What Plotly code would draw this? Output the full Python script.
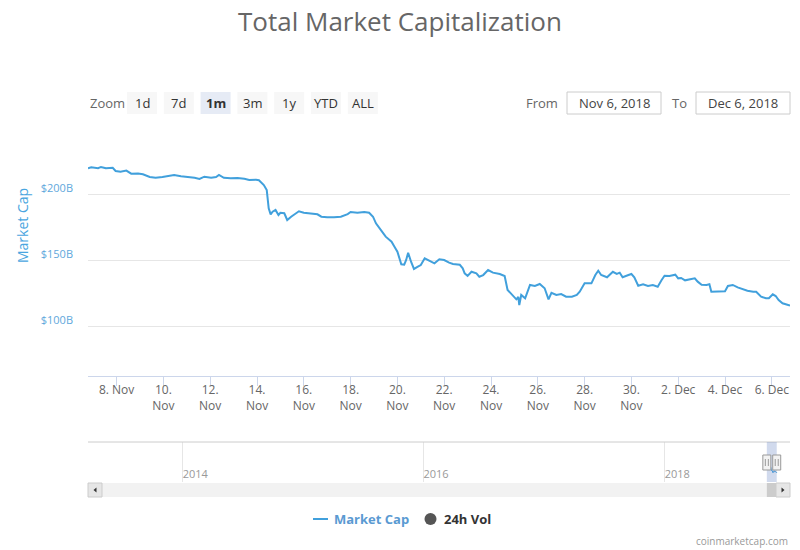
import plotly.graph_objects as go

# ---------------- data ----------------
timestamps = [
    "2018-11-06 18:40", "2018-11-06 22:00", "2018-11-07 05:00", "2018-11-07 08:00",
    "2018-11-07 13:00", "2018-11-07 20:00", "2018-11-07 23:00", "2018-11-08 04:00",
    "2018-11-08 10:00", "2018-11-08 15:00", "2018-11-08 22:00", "2018-11-09 03:00",
    "2018-11-09 10:00", "2018-11-09 16:00", "2018-11-09 23:00", "2018-11-10 04:00",
    "2018-11-10 11:00", "2018-11-10 18:00", "2018-11-11 01:00", "2018-11-11 08:00",
    "2018-11-11 13:00", "2018-11-11 18:00", "2018-11-12 01:00", "2018-11-12 06:00",
    "2018-11-12 09:00", "2018-11-12 14:00", "2018-11-12 21:00", "2018-11-13 04:00",
    "2018-11-13 11:00", "2018-11-13 16:00", "2018-11-13 23:00", "2018-11-14 02:00",
    "2018-11-14 07:00", "2018-11-14 10:00", "2018-11-14 12:00", "2018-11-14 14:00",
    "2018-11-14 16:00", "2018-11-14 19:00", "2018-11-14 22:00", "2018-11-15 00:00",
    "2018-11-15 04:00", "2018-11-15 07:00", "2018-11-15 11:00", "2018-11-15 14:00",
    "2018-11-15 19:00", "2018-11-16 00:00", "2018-11-16 07:00", "2018-11-16 14:00",
    "2018-11-16 18:00", "2018-11-17 00:00", "2018-11-17 07:00", "2018-11-17 14:00",
    "2018-11-17 21:00", "2018-11-18 00:00", "2018-11-18 07:00", "2018-11-18 14:00",
    "2018-11-18 19:00", "2018-11-18 23:00", "2018-11-19 02:00", "2018-11-19 06:00",
    "2018-11-19 09:00", "2018-11-19 12:00", "2018-11-19 18:00", "2018-11-19 21:00",
    "2018-11-20 00:00", "2018-11-20 04:00", "2018-11-20 07:00", "2018-11-20 09:00",
    "2018-11-20 11:00", "2018-11-20 14:00", "2018-11-20 17:00", "2018-11-20 21:00",
    "2018-11-21 00:00", "2018-11-21 04:00", "2018-11-21 09:00", "2018-11-21 14:00",
    "2018-11-21 19:00", "2018-11-22 00:00", "2018-11-22 05:00", "2018-11-22 09:00",
    "2018-11-22 16:00", "2018-11-22 19:00", "2018-11-22 21:00", "2018-11-23 00:00",
    "2018-11-23 04:00", "2018-11-23 09:00", "2018-11-23 12:00", "2018-11-23 16:00",
    "2018-11-23 21:00", "2018-11-24 02:00", "2018-11-24 09:00", "2018-11-24 14:00",
    "2018-11-24 17:00", "2018-11-24 23:00", "2018-11-25 02:00", "2018-11-25 04:00",
    "2018-11-25 05:00", "2018-11-25 07:00", "2018-11-25 11:00", "2018-11-25 16:00",
    "2018-11-25 21:00", "2018-11-26 02:00", "2018-11-26 07:00", "2018-11-26 11:00",
    "2018-11-26 14:00", "2018-11-26 19:00", "2018-11-27 00:00", "2018-11-27 05:00",
    "2018-11-27 11:00", "2018-11-27 16:00", "2018-11-27 19:00", "2018-11-28 00:00",
    "2018-11-28 07:00", "2018-11-28 11:00", "2018-11-28 14:00", "2018-11-28 17:00",
    "2018-11-28 23:00", "2018-11-29 05:00", "2018-11-29 09:00", "2018-11-29 12:00",
    "2018-11-29 15:00", "2018-11-29 21:00", "2018-11-30 00:00", "2018-11-30 03:00",
    "2018-11-30 07:00", "2018-11-30 12:00", "2018-11-30 17:00", "2018-11-30 22:00",
    "2018-12-01 03:00", "2018-12-01 07:00", "2018-12-01 10:00", "2018-12-01 15:00",
    "2018-12-01 21:00", "2018-12-02 00:00", "2018-12-02 03:00", "2018-12-02 07:00",
    "2018-12-02 14:00", "2018-12-02 17:00", "2018-12-02 20:00", "2018-12-03 00:00",
    "2018-12-03 05:00", "2018-12-03 08:00", "2018-12-03 10:00", "2018-12-03 15:00",
    "2018-12-03 20:00", "2018-12-04 00:00", "2018-12-04 03:00", "2018-12-04 08:00",
    "2018-12-04 13:00", "2018-12-04 18:00", "2018-12-04 23:00", "2018-12-05 05:00",
    "2018-12-05 08:00", "2018-12-05 13:00", "2018-12-05 18:00", "2018-12-05 21:00",
    "2018-12-06 01:00", "2018-12-06 04:00", "2018-12-06 07:00", "2018-12-06 11:00",
    "2018-12-06 14:00", "2018-12-06 18:40",
]

market_cap_billion = [
    219.5, 220.2, 219.5, 220.5,
    219.5, 219.9, 217.4, 216.9,
    217.7, 215.4, 215.6, 214.9,
    212.9, 212.3, 212.9, 213.4,
    214.4, 213.4, 212.9, 212.3,
    211.4, 213.1, 212.3, 212.9,
    214.4, 212.3, 211.9, 212.2,
    211.6, 210.6, 210.8, 210.4,
    206.8, 203.0, 189.2, 184.6,
    186.6, 187.9, 184.1, 185.8,
    185.4, 180.3, 182.8, 184.1,
    186.9, 185.8, 185.4, 184.6,
    182.8, 182.3, 182.3, 182.8,
    184.8, 186.4, 185.8, 186.4,
    185.8, 182.8, 177.8, 173.3,
    170.7, 167.7, 163.9, 160.1,
    156.3, 146.7, 146.4, 150.0,
    155.5, 148.7, 143.2, 144.9,
    146.2, 151.3, 149.5, 147.5,
    150.5, 150.0, 148.0, 147.0,
    146.4, 143.7, 139.9, 137.9,
    141.1, 139.9, 137.3, 138.6,
    142.4, 140.4, 139.4, 137.9,
    127.3, 122.2, 120.2, 122.0,
    115.9, 123.5, 121.0, 131.1,
    130.3, 131.8, 128.6, 120.2,
    125.2, 123.5, 124.2, 122.2,
    122.2, 123.5, 126.0, 132.3,
    132.3, 138.6, 141.9, 138.6,
    136.9, 141.1, 139.5, 140.4,
    136.9, 138.6, 139.4, 136.9,
    130.5, 131.6, 130.3, 131.1,
    129.8, 134.8, 138.1, 137.9,
    138.9, 136.1, 136.4, 134.6,
    135.4, 136.1, 133.6, 131.3,
    131.1, 131.6, 126.0, 126.0,
    126.5, 126.3, 130.3, 131.1,
    129.3, 127.8, 126.7, 126.0,
    126.0, 122.2, 121.0, 121.0,
    124.0, 122.7, 119.7, 117.2,
    116.7, 115.4,
]

x_tick_dates = ["2018-11-08", "2018-11-10", "2018-11-12", "2018-11-14", "2018-11-16",
                "2018-11-18", "2018-11-20", "2018-11-22", "2018-11-24", "2018-11-26",
                "2018-11-28", "2018-11-30", "2018-12-02", "2018-12-04", "2018-12-06"]
x_tick_labels = ["8. Nov", "10.<br>Nov", "12.<br>Nov", "14.<br>Nov", "16.<br>Nov",
                 "18.<br>Nov", "20.<br>Nov", "22.<br>Nov", "24.<br>Nov", "26.<br>Nov",
                 "28.<br>Nov", "30.<br>Nov", "2. Dec", "4. Dec", "6. Dec"]
y_tick_values = [100, 150, 200, 250]
y_tick_labels = ["$100B", "$150B", "$200B", ""]

nav_tick_dates = ["2014-01-01", "2016-01-01", "2018-01-01"]
nav_tick_labels = ["2014", "2016", "2018"]

zoom_buttons = ["1d", "7d", "1m", "3m", "1y", "YTD", "ALL"]
active_button = "1m"
date_from = "Nov 6, 2018"
date_to = "Dec 6, 2018"

# ---------------- style / geometry ----------------
W, H = 800, 550
PL, PR = 88, 790             # plot left / right in window pixels
ML, MR = PL, W - PR
FONT = "Open Sans"
LINE_COLOR = "#41a0dc"


def px(p):
    return (p - PL) / (PR - PL)


def py(p):
    return 1 - p / H


fig = go.Figure()

fig.add_trace(go.Scatter(
    x=timestamps, y=market_cap_billion, mode="lines",
    line=dict(color=LINE_COLOR, width=2), name="Market Cap",
    xaxis="x", yaxis="y", showlegend=False,
))
# navigator series
fig.add_trace(go.Scatter(
    x=timestamps, y=market_cap_billion, mode="lines",
    line=dict(color=LINE_COLOR, width=1), name="Market Cap (navigator)",
    xaxis="x2", yaxis="y2", showlegend=False, hoverinfo="skip",
))

shapes = []
annotations = []

# ----- range selector (Zoom buttons) -----
annotations.append(dict(x=px(88), y=py(103), xref="paper", yref="paper", text="Zoom",
                        showarrow=False, xanchor="left", yanchor="middle",
                        font=dict(family=FONT, size=13, color="#666666")))
for i, b in enumerate(zoom_buttons):
    x0 = 127 + i * 36.8
    active = (b == active_button)
    shapes.append(dict(type="rect", xref="paper", yref="paper",
                       x0=px(x0), x1=px(x0 + 30), y0=py(114), y1=py(92),
                       fillcolor="#e6ebf5" if active else "#f7f7f7", line=dict(width=0), layer="below"))
    annotations.append(dict(x=px(x0 + 15), y=py(103), xref="paper", yref="paper",
                            text=f"<b>{b}</b>" if active else b, showarrow=False,
                            xanchor="center", yanchor="middle",
                            font=dict(family=FONT, size=13, color="#333333")))

# From / To inputs
annotations.append(dict(x=px(560), y=py(103), xref="paper", yref="paper", text="From",
                        showarrow=False, xanchor="right", yanchor="middle",
                        font=dict(family=FONT, size=13, color="#666666")))
shapes.append(dict(type="rect", xref="paper", yref="paper", x0=px(567), x1=px(661),
                   y0=py(114), y1=py(92), line=dict(color="#cccccc", width=1), fillcolor="white"))
annotations.append(dict(x=px(614), y=py(103), xref="paper", yref="paper", text=date_from,
                        showarrow=False, xanchor="center", yanchor="middle",
                        font=dict(family=FONT, size=13, color="#444444")))
annotations.append(dict(x=px(689), y=py(103), xref="paper", yref="paper", text="To",
                        showarrow=False, xanchor="right", yanchor="middle",
                        font=dict(family=FONT, size=13, color="#666666")))
shapes.append(dict(type="rect", xref="paper", yref="paper", x0=px(696), x1=px(790),
                   y0=py(114), y1=py(92), line=dict(color="#cccccc", width=1), fillcolor="white"))
annotations.append(dict(x=px(743), y=py(103), xref="paper", yref="paper", text=date_to,
                        showarrow=False, xanchor="center", yanchor="middle",
                        font=dict(family=FONT, size=13, color="#444444")))

# y axis title
annotations.append(dict(x=px(22), y=py(226), xref="paper", yref="paper", text="Market Cap",
                        showarrow=False, textangle=-90, xanchor="center", yanchor="middle",
                        font=dict(family=FONT, size=14, color="#4aa6e0")))

# title
annotations.append(dict(x=px(400), y=py(21), xref="paper", yref="paper",
                        text="Total Market Capitalization", showarrow=False,
                        xanchor="center", yanchor="middle",
                        font=dict(family=FONT, size=26, color="#666666")))

# ----- navigator -----
shapes.append(dict(type="line", xref="paper", yref="paper", x0=0, x1=1, y0=py(442), y1=py(442),
                   line=dict(color="#cccccc", width=1)))
# selected window
shapes.append(dict(type="rect", xref="x2", yref="paper", x0=timestamps[0], x1=timestamps[-1],
                   y0=py(482), y1=py(442), fillcolor="rgba(102,133,194,0.3)", line=dict(width=0)))
# scrollbar
shapes.append(dict(type="rect", xref="paper", yref="paper", x0=0, x1=1, y0=py(497), y1=py(483),
                   fillcolor="#f2f2f2", line=dict(width=0), layer="below"))
shapes.append(dict(type="rect", xref="x2", yref="paper", x0=timestamps[0], x1=timestamps[-1],
                   y0=py(497), y1=py(483), fillcolor="#cccccc", line=dict(width=0)))
for bx0, bx1, pts in [(88, 102, [(96.5, 487.5), (96.5, 492.5), (93.5, 490)]),
                      (776, 790, [(781.5, 487.5), (781.5, 492.5), (784.5, 490)])]:
    shapes.append(dict(type="rect", xref="paper", yref="paper", x0=px(bx0), x1=px(bx1),
                       y0=py(497), y1=py(483), fillcolor="#e6e6e6",
                       line=dict(color="#cccccc", width=1)))
    path = "M {} {} L {} {} L {} {} Z".format(px(pts[0][0]), py(pts[0][1]),
                                              px(pts[1][0]), py(pts[1][1]),
                                              px(pts[2][0]), py(pts[2][1]))
    shapes.append(dict(type="path", xref="paper", yref="paper", path=path,
                       fillcolor="#333333", line=dict(width=0)))
# handles
for anchor in (timestamps[0], timestamps[-1]):
    shapes.append(dict(type="rect", xref="x2", yref="paper", xsizemode="pixel", xanchor=anchor,
                       x0=-4, x1=4, y0=py(470), y1=py(455), fillcolor="#f2f2f2",
                       line=dict(color="#999999", width=1)))
    for dx in (-1.5, 1.5):
        shapes.append(dict(type="line", xref="x2", yref="paper", xsizemode="pixel", xanchor=anchor,
                           x0=dx, x1=dx, y0=py(466), y1=py(459),
                           line=dict(color="#999999", width=1)))

# ----- legend -----
shapes.append(dict(type="line", xref="paper", yref="paper", x0=px(313), x1=px(328),
                   y0=py(519), y1=py(519), line=dict(color=LINE_COLOR, width=2)))
annotations.append(dict(x=px(332), y=py(519), xref="paper", yref="paper", text="<b>Market Cap</b>",
                        showarrow=False, xanchor="left", yanchor="middle",
                        font=dict(family=FONT, size=13, color="#5a9ad2")))
shapes.append(dict(type="circle", xref="paper", yref="paper", x0=px(424.5), x1=px(436.5),
                   y0=py(525), y1=py(513), fillcolor="#555555", line=dict(width=0)))
annotations.append(dict(x=px(442), y=py(519), xref="paper", yref="paper", text="<b>24h Vol</b>",
                        showarrow=False, xanchor="left", yanchor="middle",
                        font=dict(family=FONT, size=13, color="#333333")))

# credits
annotations.append(dict(x=px(790), y=py(541), xref="paper", yref="paper", text="coinmarketcap.com",
                        showarrow=False, xanchor="right", yanchor="middle",
                        font=dict(family=FONT, size=10, color="#999999")))

fig.update_layout(
    width=W, height=H,
    margin=dict(l=ML, r=MR, t=0, b=0),
    paper_bgcolor="white", plot_bgcolor="white",
    font=dict(family=FONT, color="#666666"),
    xaxis=dict(type="date", domain=[0, 1], anchor="y",
               range=[timestamps[0], timestamps[-1]],
               tickmode="array", tickvals=x_tick_dates, ticktext=x_tick_labels,
               ticks="outside", ticklen=9, tickcolor="#ccd6eb", showline=True, linecolor="#ccd6eb",
               showgrid=False, zeroline=False,
               tickfont=dict(family=FONT, size=12, color="#666666")),
    yaxis=dict(domain=[py(376), py(128)], anchor="x", range=[62.12, 250],
               tickmode="array", tickvals=y_tick_values, ticktext=y_tick_labels,
               showgrid=True, gridcolor="#e6e6e6", gridwidth=1, zeroline=False, showline=False,
               ticklabelstandoff=14, ticklabelshift=-6,
               tickfont=dict(family=FONT, size=11, color="#5fa8dc")),
    xaxis2=dict(type="date", domain=[0, 1], anchor="y2",
                range=["2013-03-20", "2019-01-16"],
                tickmode="array", tickvals=nav_tick_dates, ticktext=nav_tick_labels,
                ticklabelposition="inside right", ticks="", showgrid=True, gridcolor="#e6e6e6",
                showline=False, zeroline=False,
                tickfont=dict(family=FONT, size=11, color="#999999")),
    yaxis2=dict(domain=[py(482), py(442)], anchor="x2", range=[0, 500],
                showgrid=False, showticklabels=False, zeroline=False, showline=False),
    shapes=shapes,
    annotations=annotations,
    showlegend=False,
)

try:
    fig.update_xaxes(ticklabelstandoff=-6, selector=dict(anchor="y"))
    fig.update_xaxes(ticklabelstandoff=-4, selector=dict(anchor="y2"))
except ValueError:
    pass

fig.write_html("out.html",
               config={"displayModeBar": False},
               post_script="document.body.style.margin='0';document.body.style.overflow='hidden';")
